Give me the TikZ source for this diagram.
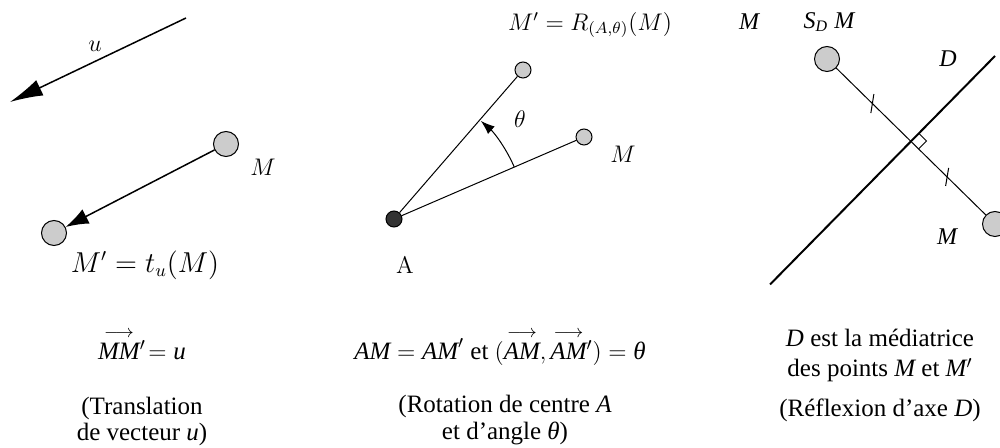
\documentclass[tikz,border=0pt]{standalone}
\usepackage{amsmath}
\usepackage{fontspec}
\newfontfamily\tm{Liberation Serif}
\usetikzlibrary{arrows.meta,calc}
\newcommand\ti[1]{\text{\tm\itshape #1}}
\newcommand\vecarr[1]{\overset{\longrightarrow}{#1}}
\definecolor{ptgray}{HTML}{CCCCCC}
\definecolor{ptdark}{HTML}{333333}
\begin{document}
\begin{tikzpicture}[x=0.5pt,y=-0.5pt,
  ptbox/.style={circle,draw,fill=ptgray,line width=0.5pt,inner sep=0pt,minimum size=12.5pt},
  sptbox/.style={ptbox,minimum size=8pt},
  dptbox/.style={ptbox,fill=ptdark,minimum size=8pt},
  cmlab/.style={font=\fontsize{12}{14}\selectfont},
  txlab/.style={font=\tm\fontsize{12.5}{14}\selectfont,anchor=base,inner sep=1pt},
  tilab/.style={font=\tm\itshape\fontsize{12}{14}\selectfont},
  thkline/.style={line width=0.75pt},
  thnline/.style={line width=0.5pt},
  axisline/.style={line width=1pt}
]
\useasboundingbox (0,0) rectangle (1000,448);

% ---------- Panel 1 : translation ----------
\coordinate (u1) at (186,18);
\coordinate (u2) at (10,102);
\draw[thkline,-{Latex[length=16.5pt,width=8.5pt]}] (u1) -- (u2);
\node[cmlab] (ulab) at (95,46) {$u$};
\node[ptbox] (M1) at (226,144) {};
\node[ptbox] (M1p) at (54,233) {};
\draw[thkline,-{Latex[length=11.5pt,width=8pt]}] (M1) -- (M1p);
\node[cmlab] (M1lab) at (263,167) {$M$};
\node[cmlab,font=\fontsize{13.5}{15}\selectfont] (M1plab) at (145,265) {$M'=t_u(M)$};

\node[txlab] (t1a) at (142,359) {$\vecarr{\ti{MM}}{}^{\prime}\!= \ti{u}$};
\node[txlab] (t1b) at (142,414) {(Translation};
\node[txlab] (t1c) at (142,440) {de vecteur \ti{u})};

% ---------- Panel 2 : rotation ----------
\node[sptbox] (Mr) at (584,137) {};
\node[sptbox] (Mrp) at (523,70) {};
\node[dptbox] (A) at (394,219) {};
\draw[thnline] (A) -- (Mr);
\draw[thnline] (A) -- (Mrp);
\draw[thnline,-{Latex[length=7pt,width=5pt]}] (A.center) ++(-23.5:131) arc[start angle=-23.5,end angle=-48.5,radius=131];
\node[cmlab] (thlab) at (520,119) {$\theta$};
\node[cmlab] (Mrlab) at (623,154) {$M$};
\node[cmlab] (Mrplab) at (590,25) {$M'=R_{(A,\theta)}(M)$};
\node[cmlab] (Alab) at (405,265) {A};

\node[txlab] (t2a) at (500,359) {$\ti{AM} = \ti{AM}^{\prime}$ et $(\vecarr{\ti{AM}},\vecarr{\ti{AM}}{}^{\prime}) = \ti{θ}$};
\node[txlab] (t2b) at (505,412) {(Rotation de centre \ti{A}};
\node[txlab] (t2c) at (505,439) {et d’angle \ti{θ})};

% ---------- Panel 3 : reflexion ----------
\node[ptbox] (Ms) at (827,59) {};
\node[ptbox] (Msp) at (995,224) {};
\coordinate (I) at ($(Ms)!0.5!(Msp)$);
\coordinate (D1) at ($(I)+(84,-85.5)$);
\coordinate (D2) at ($(I)+(-141,143)$);
\draw[axisline] (D1) -- (D2);
\draw[thnline] (Ms) -- (Msp);
\draw[thnline] ($(I)+(8,-8)$) -- ++(7.5,7.5) -- ++(-8,8);
\coordinate (k1) at ($(Ms.center)!0.54!(I)$);
\coordinate (k2) at ($(I)!0.43!(Msp.center)$);
\draw[thnline] ($(k1)+(-1.5,9.5)$) -- ($(k1)+(1.5,-9.5)$);
\draw[thnline] ($(k2)+(-1.5,9)$) -- ($(k2)+(1.5,-9)$);

\node[tilab] (Mslab1) at (749,22) {M};
\node[tilab] (SDlab) at (829,22) {S$_{\ti{D}}$ M};
\node[tilab] (Dlab) at (948,59) {D};
\node[tilab] (Mslab2) at (947,237) {M};

\node[txlab] (t3a) at (880,346) {\ti{D} est la médiatrice};
\node[txlab] (t3b) at (880,377) {des points \ti{M} et \ti{M}$^{\prime}$};
\node[txlab] (t3c) at (880,416) {(Réflexion d’axe \ti{D})};
\end{tikzpicture}
\end{document}
